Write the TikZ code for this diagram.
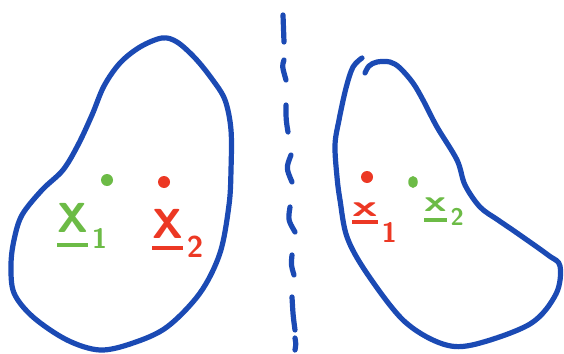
\documentclass[tikz,border=0pt]{standalone}
\usepackage{graphicx}
\usetikzlibrary{shapes.geometric}

\definecolor{penblue}{RGB}{27,74,180}
\definecolor{penred}{RGB}{236,56,36}
\definecolor{pengreen}{RGB}{108,187,70}

% underlined symbol: #1 glyph, #2 depth of the bar
\newcommand{\barvec}[2]{\sbox0{#1}\rlap{\usebox0}\rule[#2]{\wd0}{3.6pt}}
% lowered index: #1 text, #2 drop, #3 size
\newcommand{\idx}[3]{\kern4pt\raisebox{#2}{\fontsize{#3}{#3}\selectfont #1}}

\begin{document}
\begin{tikzpicture}[x=1pt, y=-1pt, line cap=round, line join=round,
	pen/.style={penblue, line width=5.2pt},
	lbl/.style={inner sep=0pt, anchor=base west, font=\sffamily\bfseries\fontsize{42}{42}\selectfont},
	dot/.style={circle, inner sep=0pt, minimum size=12pt}]
	\useasboundingbox (0,0) rectangle (564,353);
	% left set
	\draw[pen] plot[smooth cycle, tension=0.55] coordinates {(140,47) (162,38) (177,42) (195,58) (212,79) (225,100) (231,130) (231,170) (229,205) (220,253) (200,293) (167,327) (133,343) (100,350) (67,340) (33,317) (14,293) (11,265) (14,240) (22,215) (42,190) (63,170) (78,145) (92,115) (104,86) (120,63)};
	% right set
	\draw[pen] plot[smooth, tension=0.55] coordinates {(362,58) (353,67) (346,88) (339,120) (335,145) (337,177) (340,200) (347,237) (366,272) (403,320) (440,343) (472,345) (530,324) (556,294) (560,266) (548,255) (517,233) (498,220) (480,207) (465,185) (457,160) (437,127) (423,100) (413,83) (400,68) (390,62) (377,62) (369,66) (365,73)};
	% separator
	\foreach \xa/\ya/\xb/\yb/\xc/\yc in {283/15/283/28/284/42, 284/60/282/66/286/80, 286/105/286/120/288/132, 291/155/286/168/292/182, 290/207/288/220/295/232, 292/255/291/265/294/275, 292/297/293/315/295/330, 295/338/296/344/295/350}
		\draw[pen] (\xa,\ya) .. controls (\xb,\yb) .. (\xc,\yc);
	% points
	\node[dot, fill=pengreen] (p1) at (107,180) {};
	\node[dot, fill=penred] (p2) at (164,182) {};
	\node[dot, fill=penred] (q1) at (367,177) {};
	\node[dot, fill=pengreen, minimum height=12pt, minimum width=9.5pt, ellipse] (q2) at (413,182) {};
	% names
	\node[lbl, pengreen] (X1) at (57,232) {\barvec{X}{-14.6pt}\idx{1}{-16pt}{28}};
	\node[lbl, penred] (X2) at (152,238) {\barvec{X}{-11.6pt}\idx{2}{-19pt}{30}};
	\node[lbl, penred, font=\sffamily\bfseries\fontsize{30}{30}\selectfont] (x1) at (352,216) {\barvec{\scalebox{1.7}[1]{x}}{-8pt}\idx{1}{-26pt}{28}};
	\node[lbl, pengreen, font=\sffamily\bfseries\fontsize{30}{30}\selectfont] (x2) at (424,211) {\barvec{\scalebox{1.5}[1]{x}}{-11pt}\idx{2}{-14pt}{24}};
\end{tikzpicture}
\end{document}
